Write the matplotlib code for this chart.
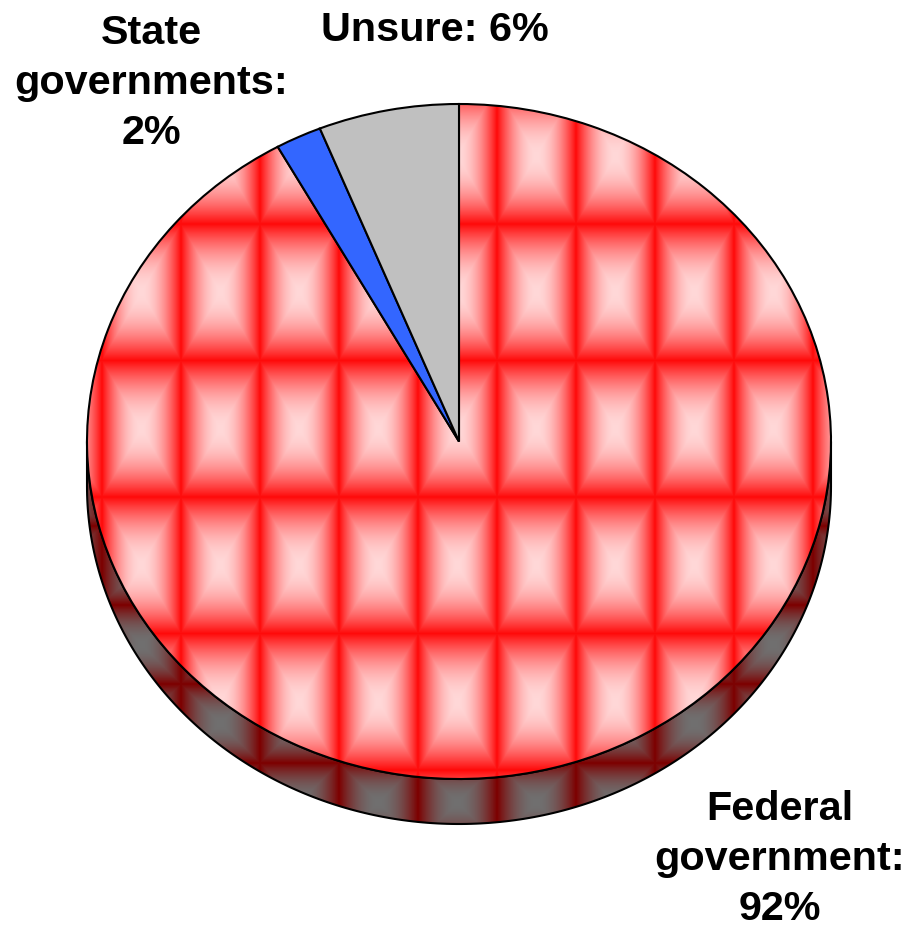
import numpy as np
import matplotlib
matplotlib.use("Agg")
import matplotlib.pyplot as plt
from matplotlib.patches import Polygon

# ---- data ----
categories = ["Federal\ngovernment:\n92%", "State\ngovernments:\n2%", "Unsure: 6%"]
values = [91.9, 2.0, 6.1]
colors = ["none", "#3366FF", "#C0C0C0"]

W, H = 908, 928
CX, CY, RX, RY, DEPTH = 459.0, 442.5, 372.0, 337.5, 45.0

plt.rcParams["font.family"] = ["Liberation Sans", "DejaVu Sans"]
fig = plt.figure(figsize=(W / 100, H / 100), dpi=100, facecolor="white")
ax = fig.add_axes([0, 0, 1, 1])

wedges, _ = ax.pie(values, startangle=90, counterclock=False, colors=colors, radius=1.0,
                   center=(0, 0), wedgeprops=dict(edgecolor="black", linewidth=1.5, zorder=5))
ax.set_aspect("auto")
ax.axis("off")
extent = [(0 - CX) / RX, (W - CX) / RX, (CY - H) / RY, (CY - 0) / RY]

# pixel grid for the picture-fill textures
px, py = np.meshgrid(np.arange(W) + 0.5, np.arange(H) + 0.5)


def edge_dist(v, origin, period):
    d = np.abs((v - origin + period / 2) % period - period / 2)
    return d / (period / 2)


def texture(tx, ty, c0, c1, power):
    t = 1 - (1 - np.minimum(tx, ty)) ** power
    return np.dstack([(c0[i] + (c1[i] - c0[i]) * t) / 255 for i in range(3)])


# side wall
theta = np.linspace(np.pi, 2 * np.pi, 240)
xs, ys = np.cos(theta), np.sin(theta)
d = DEPTH / RY
side_xy = np.r_[np.c_[xs, ys], np.c_[xs[::-1], ys[::-1] - d]]
side = Polygon(side_xy, closed=True, facecolor="none", edgecolor="black", linewidth=1.5, zorder=3)
ax.add_patch(side)
side_img = ax.imshow(
    texture(edge_dist(px, 497.0, 79.0), edge_dist(py, 527.0, 79.0), (125, 0, 0), (112, 112, 112), 2.0),
    extent=extent, origin="upper", aspect="auto", interpolation="bilinear", zorder=2)
side_img.set_clip_path(side)

# textured Federal slice
top_img = ax.imshow(
    texture(edge_dist(px, 497.0, 79.0), edge_dist(py, 225.0, 136.5), (255, 10, 10), (255, 216, 216), 1.9),
    extent=extent, origin="upper", aspect="auto", interpolation="bilinear", zorder=4)
top_img.set_clip_path(wedges[0])
ax.set_xlim(extent[0], extent[1])
ax.set_ylim(extent[2], extent[3])

# labels
label_pos = [(780, 859), (151, 83), (435, 30)]
for text, (lx, ly) in zip(categories, label_pos):
    fig.text(lx / W, 1 - ly / H, text, ha="center", va="center", fontsize=29.8, fontweight="bold",
             color="black", linespacing=1.39)

fig.savefig("out.png", dpi=100, facecolor="white")
